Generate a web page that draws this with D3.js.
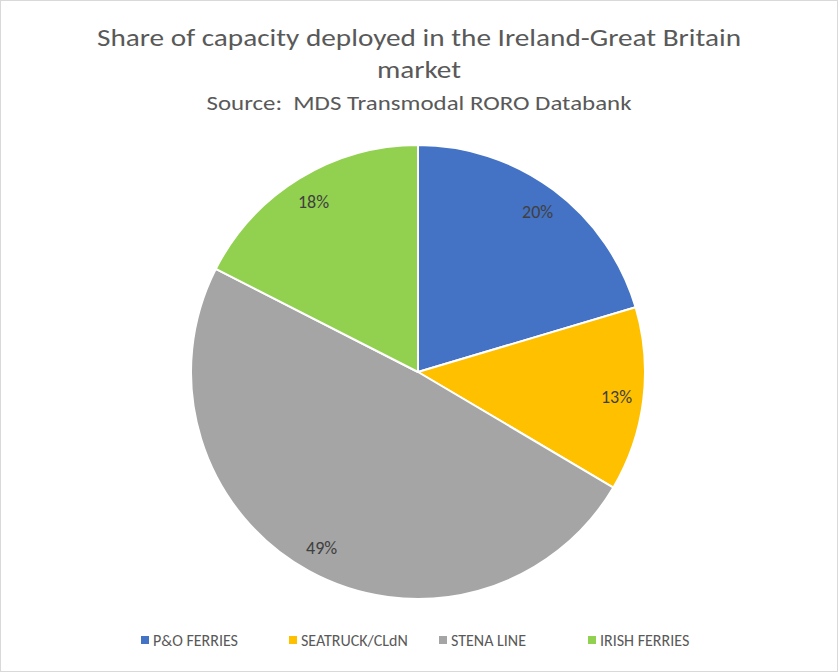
<!DOCTYPE html>
<html>
<head>
<meta charset="utf-8">
<script src="https://cdn.jsdelivr.net/npm/d3@7.9.0/dist/d3.min.js"></script>
<style>
  html, body { margin: 0; padding: 0; background: #fff; }
  svg { display: block; font-family: Carlito, "Open Sans", "Noto Sans", sans-serif; }
  text { white-space: pre; }
</style>
</head>
<body>
<svg id="chart" width="838" height="672"></svg>
<script>
const companies = ['P&O FERRIES', 'SEATRUCK/CLdN', 'STENA LINE', 'IRISH FERRIES'];
const shares = [20.4, 13.1, 49.0, 17.5];
const sliceColors = ['#4472c4', '#ffc000', '#a5a5a5', '#92d050'];
const titleLines = ['Share of capacity deployed in the Ireland-Great Britain', 'market'];
const sourceLine = 'Source:  MDS Transmodal RORO Databank';

const svg = d3.select('#chart');
const width = 838, height = 672;

// chart frame
svg.append('rect')
  .attr('x', 0.5).attr('y', 0.5)
  .attr('width', width - 1).attr('height', height - 1)
  .attr('fill', '#fff').attr('stroke', '#d9d9d9');

// titles - squeeze to the widths Excel used
function fitText(sel, target) {
  const w = sel.node().getComputedTextLength();
  if (w > 0) sel.attr('textLength', target).attr('lengthAdjust', 'spacingAndGlyphs');
}

const t1 = svg.append('text').attr('x', 419).attr('y', 46)
  .attr('text-anchor', 'middle').attr('font-size', 25).attr('fill', '#595959')
  .text(titleLines[0]);
fitText(t1, 644);
const t2 = svg.append('text').attr('x', 419).attr('y', 78)
  .attr('text-anchor', 'middle').attr('font-size', 25).attr('fill', '#595959')
  .text(titleLines[1]);
fitText(t2, 84);
const t3 = svg.append('text').attr('x', 419).attr('y', 110)
  .attr('text-anchor', 'middle').attr('font-size', 21).attr('fill', '#595959')
  .text(sourceLine);
fitText(t3, 425);

// pie
const cx = 418, cy = 372, radius = 227;
const data = companies.map((c, i) => ({ name: c, value: shares[i], color: sliceColors[i] }));
const pie = d3.pie().sort(null).value(d => d.value);
const arc = d3.arc().innerRadius(0).outerRadius(radius);
const labelArc = d3.arc().innerRadius(200).outerRadius(200);
const arcs = pie(data);

const g = svg.append('g').attr('transform', `translate(${cx},${cy})`);
g.selectAll('path')
  .data(arcs)
  .join('path')
  .attr('d', arc)
  .attr('fill', d => d.data.color)
  .attr('stroke', '#fff')
  .attr('stroke-width', 2)
  .attr('stroke-linejoin', 'round');

g.selectAll('text.lbl')
  .data(arcs)
  .join('text')
  .attr('class', 'lbl')
  .attr('transform', d => `translate(${labelArc.centroid(d)})`)
  .attr('text-anchor', 'middle')
  .attr('dy', '0.35em')
  .attr('font-size', 18)
  .attr('fill', '#404040')
  .text(d => Math.round(d.data.value) + '%');

// legend
const legendX = [141, 289, 439, 588];
const legend = svg.append('g');
data.forEach((d, i) => {
  legend.append('rect')
    .attr('x', legendX[i]).attr('y', 636)
    .attr('width', 8).attr('height', 8)
    .attr('fill', d.color);
  legend.append('text')
    .attr('x', legendX[i] + 12).attr('y', 646)
    .attr('font-size', 16).attr('fill', '#595959')
    .text(d.name);
});
</script>
</body>
</html>
